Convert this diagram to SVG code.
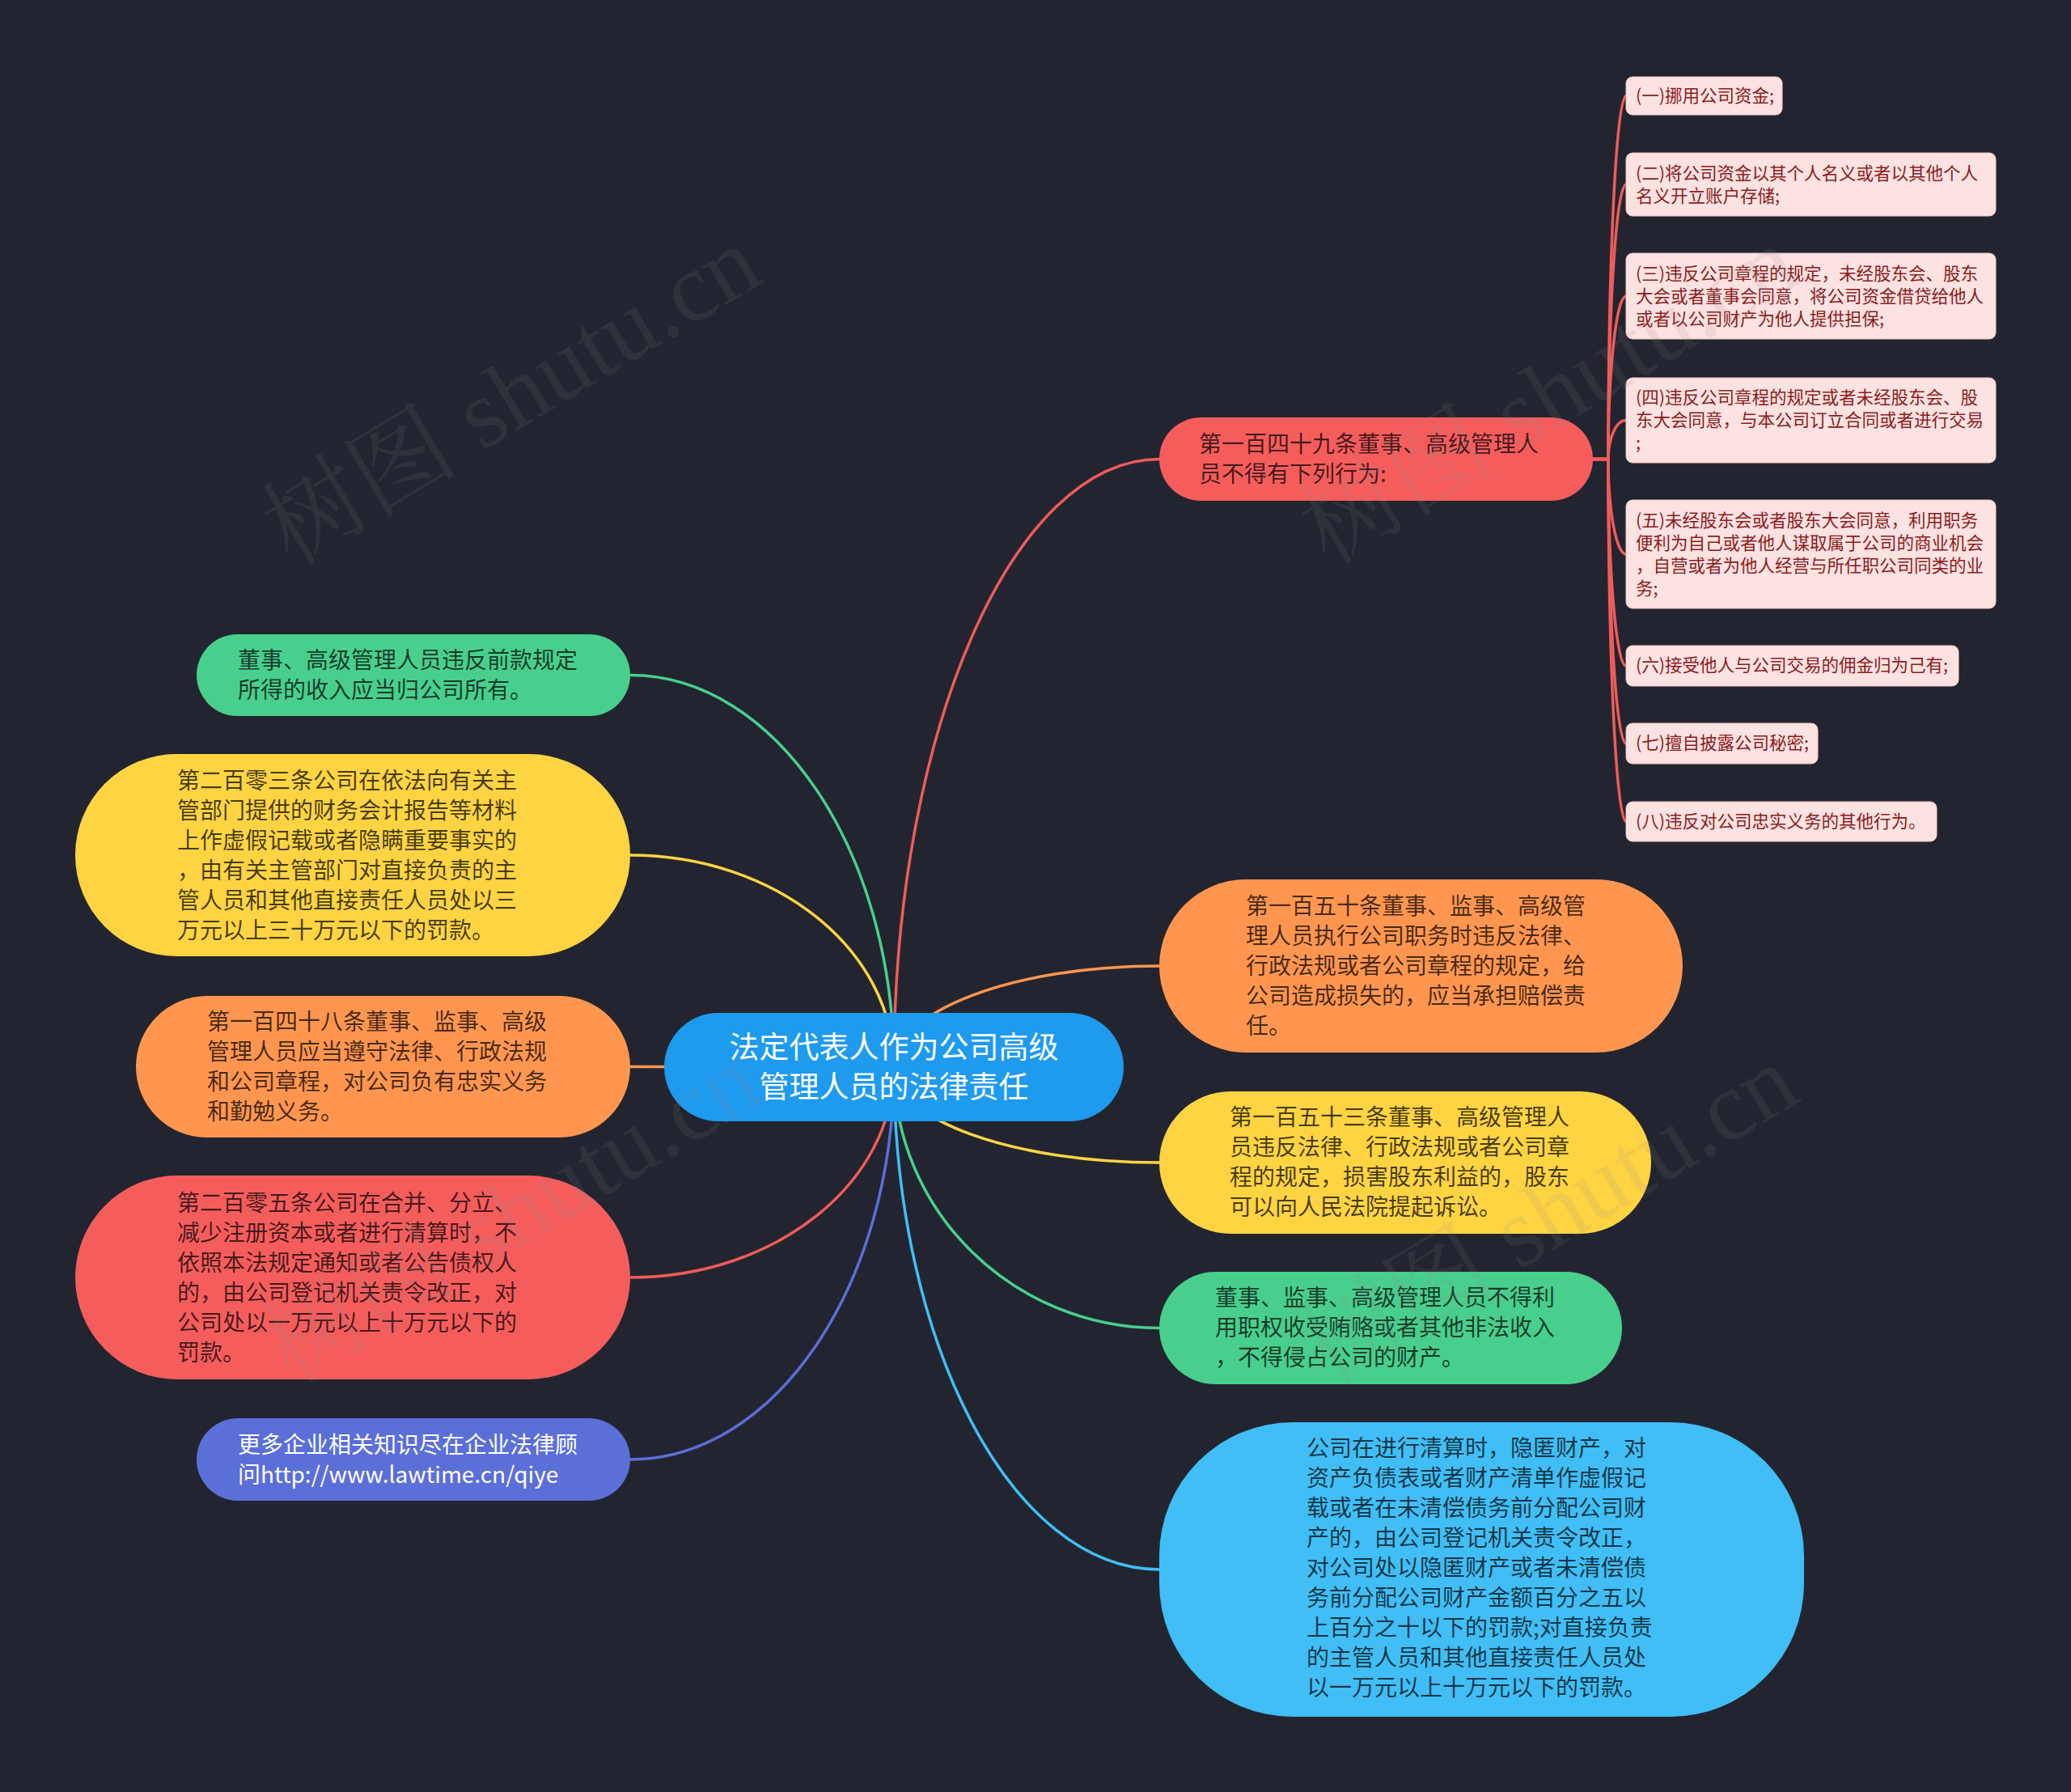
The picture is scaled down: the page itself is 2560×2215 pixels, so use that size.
<svg xmlns="http://www.w3.org/2000/svg" width="2560" height="2215" viewBox="0 0 2560 2215">
<defs>
<style>
.t{font-family:"Noto Sans CJK SC","Noto Sans",sans-serif;font-size:28px;fill:#000;fill-opacity:0.72}
.tw{font-family:"Noto Sans CJK SC","Noto Sans",sans-serif;font-size:28px;fill:#ffffff}
.tc{font-family:"Noto Sans CJK SC","Noto Sans",sans-serif;font-size:37px;fill:#ffffff;text-anchor:middle}
.lf{fill:#fde2e2;stroke:#f3c4c4;stroke-width:1}
.lt{font-family:"Noto Sans CJK SC","Noto Sans",sans-serif;font-size:21.5px;fill:#8a1c1c}
.c{fill:none;stroke-width:3.5;stroke-linecap:round}
.wm{font-family:"Liberation Serif","Noto Serif CJK SC","Noto Sans CJK SC",serif;font-size:122px;fill:#8a8a8a;fill-opacity:0.13}
</style>
</defs>
<rect x="0" y="0" width="2560" height="2215" fill="#22252f"/>

<g id="connectors">
<path class="c" stroke="#f05b5b" d="M1105 1319 C1105 904, 1252 567.5, 1433 567.5"/>
<path class="c" stroke="#ff9650" d="M1105 1319 C1105 1250, 1252 1194, 1433 1194"/>
<path class="c" stroke="#fed443" d="M1105 1319 C1105 1384, 1252 1437, 1433 1437"/>
<path class="c" stroke="#49cf8d" d="M1105 1319 C1105 1497, 1252 1641.5, 1433 1641.5"/>
<path class="c" stroke="#40bef5" d="M1105 1319 C1105 1662, 1252 1940, 1433 1940"/>
<path class="c" stroke="#49cf8d" d="M1105 1319 C1105 1052, 959 834.5, 779 834.5"/>
<path class="c" stroke="#fed443" d="M1105 1319 C1105 1174, 959 1057, 779 1057"/>
<path class="c" stroke="#ff9650" d="M1105 1319 L779 1318.5"/>
<path class="c" stroke="#f05b5b" d="M1105 1319 C1105 1462, 959 1579, 779 1579"/>
<path class="c" stroke="#5b6fd8" d="M1105 1319 C1105 1587, 959 1804, 779 1804"/>
<g stroke="#f05b5b">
<path class="c" d="M1969 567.5 L1988 567.5 C1988 320, 1998 118.5, 2010 118.5"/>
<path class="c" d="M1969 567.5 L1988 567.5 C1988 380, 1998 228, 2010 228"/>
<path class="c" d="M1969 567.5 L1988 567.5 C1988 456, 1998 366, 2010 366"/>
<path class="c" d="M1969 567.5 L1988 567.5 C1988 541, 1998 519.5, 2010 519.5"/>
<path class="c" d="M1969 567.5 L1988 567.5 C1988 632, 1998 685, 2010 685"/>
<path class="c" d="M1969 567.5 L1988 567.5 C1988 709, 1998 823, 2010 823"/>
<path class="c" d="M1969 567.5 L1988 567.5 C1988 762, 1998 919, 2010 919"/>
<path class="c" d="M1969 567.5 L1988 567.5 C1988 815, 1998 1015.5, 2010 1015.5"/>
</g>
</g>

<g id="root">
<rect x="821" y="1252" width="568" height="134" rx="67" fill="#1e9aee"/>
<text class="tc" x="1105" y="1308">法定代表人作为公司高级</text>
<text class="tc" x="1105" y="1357">管理人员的法律责任</text>
</g>

<g id="n149">
<rect x="1433" y="516" width="536" height="103" rx="51.5" fill="#f55d5d"/>
<text class="t" x="1482" y="559">第一百四十九条董事、高级管理人</text>
<text class="t" x="1482" y="596">员不得有下列行为:</text>
</g>

<g id="n150">
<rect x="1433" y="1087" width="647" height="214" rx="107" fill="#ff9650"/>
<text class="t" x="1540" y="1130">第一百五十条董事、监事、高级管</text>
<text class="t" x="1540" y="1167">理人员执行公司职务时违反法律、</text>
<text class="t" x="1540" y="1204">行政法规或者公司章程的规定，给</text>
<text class="t" x="1540" y="1241">公司造成损失的，应当承担赔偿责</text>
<text class="t" x="1540" y="1278">任。</text>
</g>

<g id="n153">
<rect x="1433" y="1349" width="608" height="176" rx="88" fill="#fed443"/>
<text class="t" x="1520" y="1391">第一百五十三条董事、高级管理人</text>
<text class="t" x="1520" y="1428">员违反法律、行政法规或者公司章</text>
<text class="t" x="1520" y="1465">程的规定，损害股东利益的，股东</text>
<text class="t" x="1520" y="1502">可以向人民法院提起诉讼。</text>
</g>

<g id="nbribe">
<rect x="1433" y="1572" width="572" height="139" rx="69.5" fill="#49cf8d"/>
<text class="t" x="1502" y="1614">董事、监事、高级管理人员不得利</text>
<text class="t" x="1502" y="1651">用职权收受贿赂或者其他非法收入</text>
<text class="t" x="1502" y="1688">，不得侵占公司的财产。</text>
</g>

<g id="nliquid">
<rect x="1433" y="1758" width="797" height="364" rx="165" fill="#40bef5"/>
<text class="t" x="1615" y="1800">公司在进行清算时，隐匿财产，对</text>
<text class="t" x="1615" y="1837">资产负债表或者财产清单作虚假记</text>
<text class="t" x="1615" y="1874">载或者在未清偿债务前分配公司财</text>
<text class="t" x="1615" y="1911">产的，由公司登记机关责令改正，</text>
<text class="t" x="1615" y="1948">对公司处以隐匿财产或者未清偿债</text>
<text class="t" x="1615" y="1985">务前分配公司财产金额百分之五以</text>
<text class="t" x="1615" y="2022">上百分之十以下的罚款;对直接负责</text>
<text class="t" x="1615" y="2059">的主管人员和其他直接责任人员处</text>
<text class="t" x="1615" y="2096">以一万元以上十万元以下的罚款。</text>
</g>

<g id="nincome">
<rect x="243" y="784" width="536" height="101" rx="50.5" fill="#49cf8d"/>
<text class="t" x="294" y="826">董事、高级管理人员违反前款规定</text>
<text class="t" x="294" y="863">所得的收入应当归公司所有。</text>
</g>

<g id="n203">
<rect x="93" y="932" width="686" height="250" rx="125" fill="#fed443"/>
<text class="t" x="219" y="975">第二百零三条公司在依法向有关主</text>
<text class="t" x="219" y="1012">管部门提供的财务会计报告等材料</text>
<text class="t" x="219" y="1049">上作虚假记载或者隐瞒重要事实的</text>
<text class="t" x="219" y="1086">，由有关主管部门对直接负责的主</text>
<text class="t" x="219" y="1123">管人员和其他直接责任人员处以三</text>
<text class="t" x="219" y="1160">万元以上三十万元以下的罚款。</text>
</g>

<g id="n148">
<rect x="168" y="1231" width="611" height="175" rx="87.5" fill="#ff9650"/>
<text class="t" x="256" y="1273">第一百四十八条董事、监事、高级</text>
<text class="t" x="256" y="1310">管理人员应当遵守法律、行政法规</text>
<text class="t" x="256" y="1347">和公司章程，对公司负有忠实义务</text>
<text class="t" x="256" y="1384">和勤勉义务。</text>
</g>

<g id="n205">
<rect x="93" y="1453" width="686" height="252" rx="126" fill="#f55d5d"/>
<text class="t" x="219" y="1497">第二百零五条公司在合并、分立、</text>
<text class="t" x="219" y="1534">减少注册资本或者进行清算时，不</text>
<text class="t" x="219" y="1571">依照本法规定通知或者公告债权人</text>
<text class="t" x="219" y="1608">的，由公司登记机关责令改正，对</text>
<text class="t" x="219" y="1645">公司处以一万元以上十万元以下的</text>
<text class="t" x="219" y="1682">罚款。</text>
</g>

<g id="nmore">
<rect x="243" y="1753" width="536" height="102" rx="51" fill="#5b6fd8"/>
<text class="tw" x="294" y="1796">更多企业相关知识尽在企业法律顾</text>
<text class="tw" x="294" y="1833">问http://www.lawtime.cn/qiye</text>
</g>

<g id="leaf1">
<rect class="lf" x="2010" y="95" width="193" height="47" rx="8"/>
<text class="lt" x="2022" y="126">(一)挪用公司资金;</text>
</g>
<g id="leaf2">
<rect class="lf" x="2010" y="189" width="457" height="78" rx="8"/>
<text class="lt" x="2022" y="222">(二)将公司资金以其个人名义或者以其他个人</text>
<text class="lt" x="2022" y="250">名义开立账户存储;</text>
</g>
<g id="leaf3">
<rect class="lf" x="2010" y="313" width="457" height="106" rx="8"/>
<text class="lt" x="2022" y="346">(三)违反公司章程的规定，未经股东会、股东</text>
<text class="lt" x="2022" y="374">大会或者董事会同意，将公司资金借贷给他人</text>
<text class="lt" x="2022" y="402">或者以公司财产为他人提供担保;</text>
</g>
<g id="leaf4">
<rect class="lf" x="2010" y="467" width="457" height="105" rx="8"/>
<text class="lt" x="2022" y="499">(四)违反公司章程的规定或者未经股东会、股</text>
<text class="lt" x="2022" y="527">东大会同意，与本公司订立合同或者进行交易</text>
<text class="lt" x="2022" y="555">;</text>
</g>
<g id="leaf5">
<rect class="lf" x="2010" y="618" width="457" height="134" rx="8"/>
<text class="lt" x="2022" y="651">(五)未经股东会或者股东大会同意，利用职务</text>
<text class="lt" x="2022" y="679">便利为自己或者他人谋取属于公司的商业机会</text>
<text class="lt" x="2022" y="707">，自营或者为他人经营与所任职公司同类的业</text>
<text class="lt" x="2022" y="735">务;</text>
</g>
<g id="leaf6">
<rect class="lf" x="2010" y="798" width="411" height="50" rx="8"/>
<text class="lt" x="2022" y="830">(六)接受他人与公司交易的佣金归为己有;</text>
</g>
<g id="leaf7">
<rect class="lf" x="2010" y="894" width="237" height="50" rx="8"/>
<text class="lt" x="2022" y="926">(七)擅自披露公司秘密;</text>
</g>
<g id="leaf8">
<rect class="lf" x="2010" y="991" width="384" height="49" rx="8"/>
<text class="lt" x="2022" y="1023">(八)违反对公司忠实义务的其他行为。</text>
</g>

<g id="watermark">
<text class="wm" transform="translate(360 700) rotate(-31)">树图 shutu.cn</text>
<text class="wm" transform="translate(1642 700) rotate(-31)">树图 shutu.cn</text>
<text class="wm" transform="translate(360 1712) rotate(-31)">树图 shutu.cn</text>
<text class="wm" transform="translate(1642 1712) rotate(-31)">树图 shutu.cn</text>
</g>
</svg>
